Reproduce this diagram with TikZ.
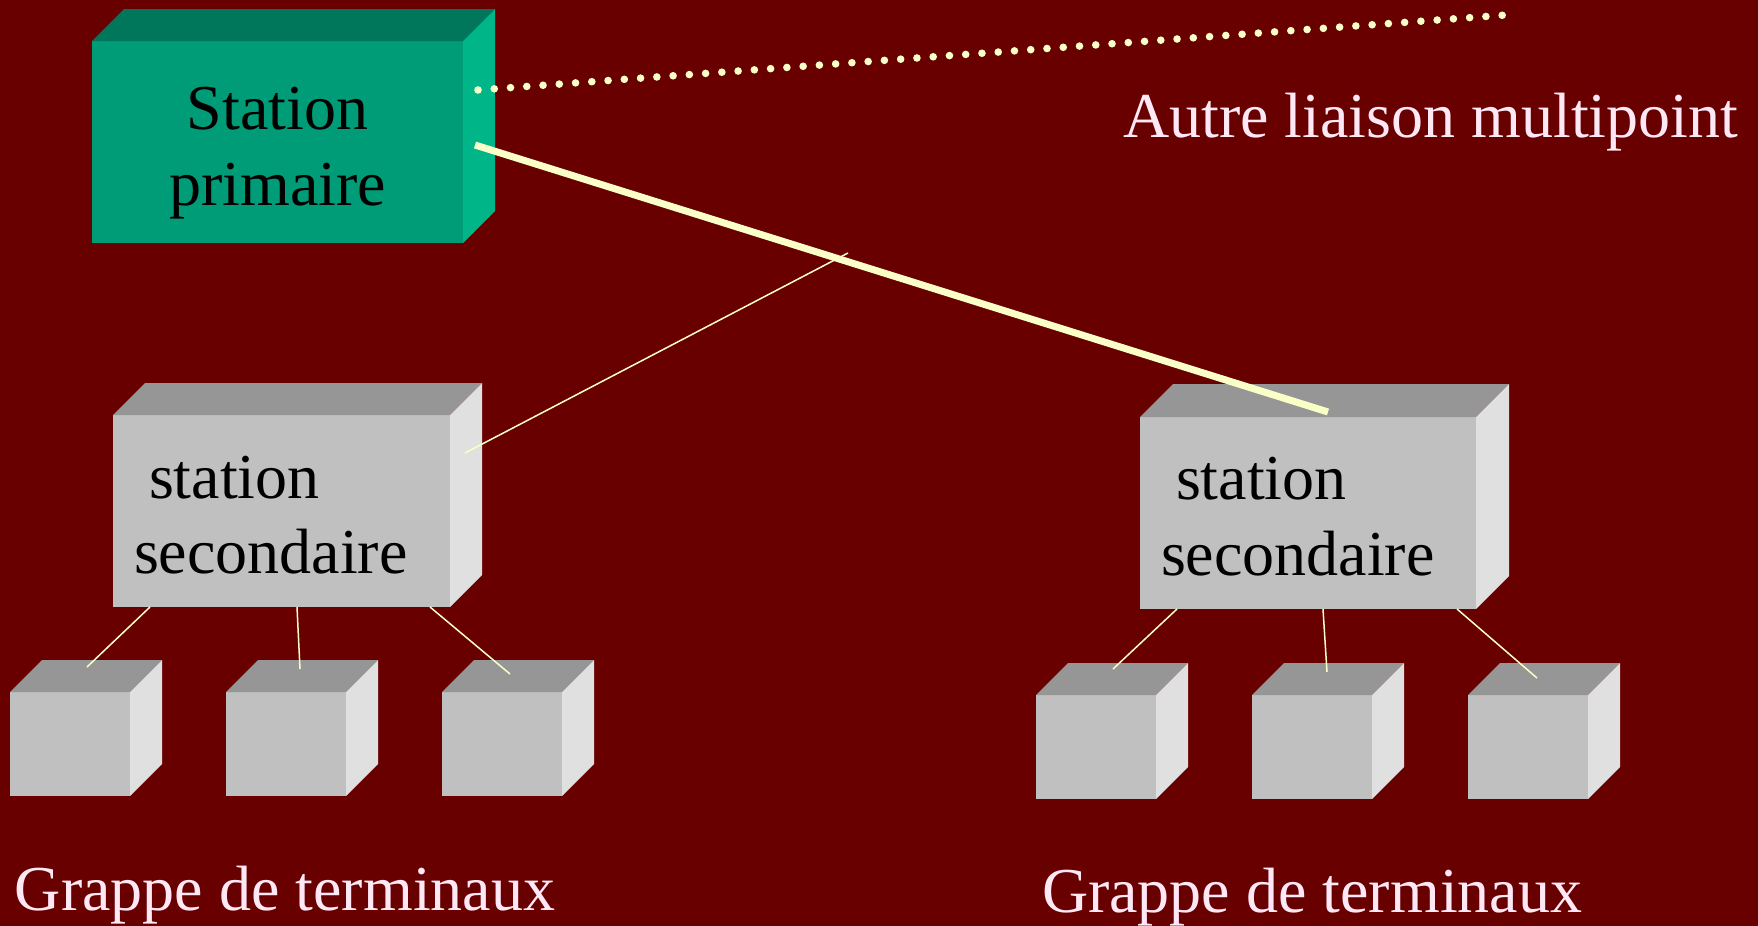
\documentclass[tikz,border=0pt]{standalone}
\usepackage{fontspec}
\setmainfont{Liberation Serif}
\usetikzlibrary{calc}
\definecolor{bg}{RGB}{105,0,0}
\definecolor{wire}{RGB}{250,255,200}
\definecolor{pinktxt}{RGB}{255,232,246}
\definecolor{gfront}{RGB}{0,155,119}
\definecolor{gtop}{RGB}{0,118,90}
\definecolor{gside}{RGB}{0,182,136}
\definecolor{sfront}{RGB}{192,192,192}
\definecolor{stop}{RGB}{150,150,150}
\definecolor{sside}{RGB}{224,224,224}
\tikzset{
  face/.style={inner sep=0pt, outer sep=0pt, draw=none},
  lbl/.style={font=\fontsize{32}{38}\selectfont, inner sep=0pt, outer sep=0pt},
  inlbl/.style={lbl, text=black},
  outlbl/.style={lbl, text=pinktxt},
  thinwire/.style={draw=wire, line width=0.75pt},
  thickwire/.style={draw=wire, line width=3.5pt},
  dotwire/.style={draw=wire, line width=3.8pt, line cap=round, dash pattern=on 0pt off 8.15pt}
}
\newcommand\solidbox[9]{%
  \node[face, fill=#7, minimum width=#4*0.5pt, minimum height=#5*0.5pt] (#1) at (#2,#3) {};
  \fill[#8] (#1.north west) -- ++(#6,-#6) -- ($(#1.north east)+(#6,-#6)$) -- (#1.north east) -- cycle;
  \fill[#9] (#1.north east) -- ($(#1.north east)+(#6,-#6)$) -- ($(#1.south east)+(#6,-#6)$) -- (#1.south east) -- cycle;
}
\begin{document}
\begin{tikzpicture}[x=0.5pt, y=-0.5pt]
\fill[bg] (0,0) rectangle (1758,926);
\useasboundingbox (0,0) rectangle (1758,926);

% primary station
\solidbox{prim}{277.5}{142}{371}{202}{32}{gfront}{gtop}{gside}
\node[inlbl, anchor=base] (primt1) at (277.5,129) {Station};
\node[inlbl, anchor=base] (primt2) at (277.5,205) {primaire};

% secondary stations
\solidbox{secl}{281.5}{511}{337}{192}{32}{sfront}{stop}{sside}
\node[inlbl, anchor=base west] (seclt1) at (149,498) {station};
\node[inlbl, anchor=base west] (seclt2) at (134,573) {secondaire};

\solidbox{secr}{1308}{513}{336}{192}{33}{sfront}{stop}{sside}
\node[inlbl, anchor=base west] (secrt1) at (1176,499) {station};
\node[inlbl, anchor=base west] (secrt2) at (1161,575) {secondaire};

% terminals
\solidbox{tl1}{70}{744}{120}{104}{32}{sfront}{stop}{sside}
\solidbox{tl2}{286}{744}{120}{104}{32}{sfront}{stop}{sside}
\solidbox{tl3}{502}{744}{120}{104}{32}{sfront}{stop}{sside}
\solidbox{tr1}{1096}{747}{120}{104}{32}{sfront}{stop}{sside}
\solidbox{tr2}{1312}{747}{120}{104}{32}{sfront}{stop}{sside}
\solidbox{tr3}{1528}{747}{120}{104}{32}{sfront}{stop}{sside}

% links
\coordinate (dotend) at (1506,15);
\draw[dotwire] ($(prim.east)+(15,-52)$) -- (dotend);
\draw[thickwire] ($(prim.east)+(12,3)$) -- ($(secr.north)+(20,-5)$);
\coordinate (tap) at (848,253);
\draw[thinwire] ($(secl.east)+(15,-58)$) -- (tap);

\draw[thinwire] ($(secl.south west)+(37,0)$) -- ($(tl1.north)+(17,-25)$);
\draw[thinwire] ($(secl.south)+(15.5,0)$) -- ($(tl2.north)+(14,-23)$);
\draw[thinwire] ($(secl.south east)+(-20,0)$) -- ($(tl3.north)+(8,-18)$);
\draw[thinwire] ($(secr.south west)+(37,0)$) -- ($(tr1.north)+(17,-26)$);
\draw[thinwire] ($(secr.south)+(15,0)$) -- ($(tr2.north)+(15,-23)$);
\draw[thinwire] ($(secr.south east)+(-19,0)$) -- ($(tr3.north)+(9,-17)$);

% labels
\node[outlbl, anchor=base west] (autre) at (1123,137) {Autre liaison multipoint};
\node[outlbl, anchor=base west] (grl) at (15,910) {Grappe de terminaux};
\node[outlbl, anchor=base west] (grr) at (1042,912) {Grappe de terminaux};
\end{tikzpicture}
\end{document}
